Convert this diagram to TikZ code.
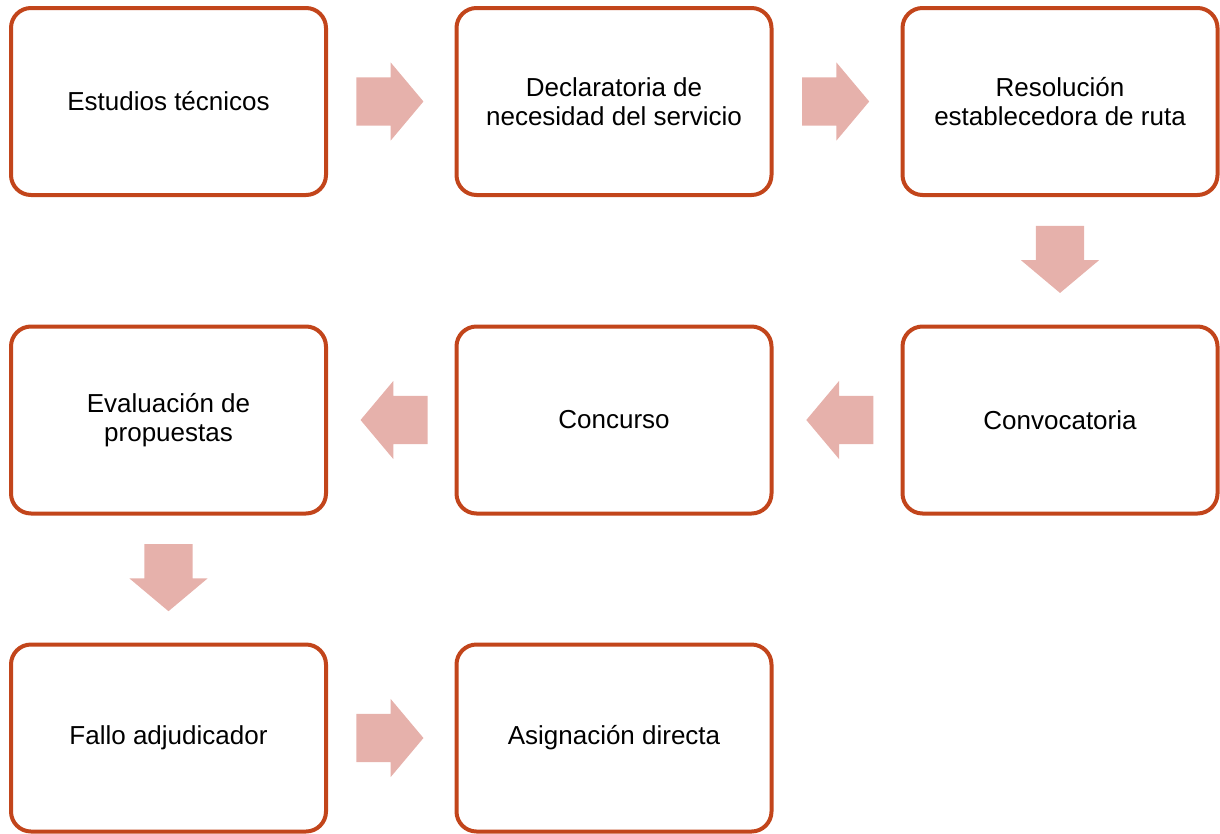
\documentclass[tikz,border=0pt]{standalone}
\usepackage{fontspec}
\setmainfont{Liberation Sans}
\usetikzlibrary{shapes.arrows,calc}
\definecolor{boxborder}{HTML}{C2451B}
\definecolor{arrowfill}{HTML}{E6B1AB}
\tikzset{
  stepbox/.style={draw=boxborder, line width=4pt, rounded corners=20pt, fill=white,
    minimum width=315pt, minimum height=187pt, align=center, inner sep=0pt,
    font=\fontsize{26}{29.5}\selectfont},
  blockarrow/.style={single arrow, fill=arrowfill, draw=none, inner xsep=0pt, inner ysep=24pt,
    minimum height=67pt, single arrow head extend=15pt,
    single arrow tip angle=100, anchor=tail}
}
\begin{document}
\begin{tikzpicture}[x=1pt,y=-1pt]
\useasboundingbox (0,0) rectangle (1220,833);
\node[stepbox] (b1) at (168.5,101.5) {Estudios técnicos};
\node[stepbox] (b2) at (614,101.5) {Declaratoria de\\necesidad del servicio};
\node[stepbox] (b3) at (1060,101.5) {Resolución\\establecedora de ruta};
\node[stepbox] (b4) at (1060,420) {Convocatoria};
\node[stepbox] (b5) at (614,420) {Concurso};
\node[stepbox] (b6) at (168.5,420) {Evaluación de\\propuestas};
\node[stepbox] (b7) at (168.5,738) {Fallo adjudicador};
\node[stepbox] (b8) at (614,738) {Asignación directa};
\node[blockarrow] (a12) at ($(b1.east)!0.5!(b2.west)+(-35,0)$) {};
\node[blockarrow] (a23) at ($(b2.east)!0.5!(b3.west)+(-35,0)$) {};
\node[blockarrow, rotate=-90] (a34) at ($(b3.south)!0.5!(b4.north)+(0,-35)$) {};
\node[blockarrow, rotate=180] (a45) at ($(b4.west)!0.5!(b5.east)+(36.5,0)$) {};
\node[blockarrow, rotate=180] (a56) at ($(b5.west)!0.5!(b6.east)+(36.5,0)$) {};
\node[blockarrow, rotate=-90] (a67) at ($(b6.south)!0.5!(b7.north)+(0,-35)$) {};
\node[blockarrow] (a78) at ($(b7.east)!0.5!(b8.west)+(-35,0)$) {};
\end{tikzpicture}
\end{document}
